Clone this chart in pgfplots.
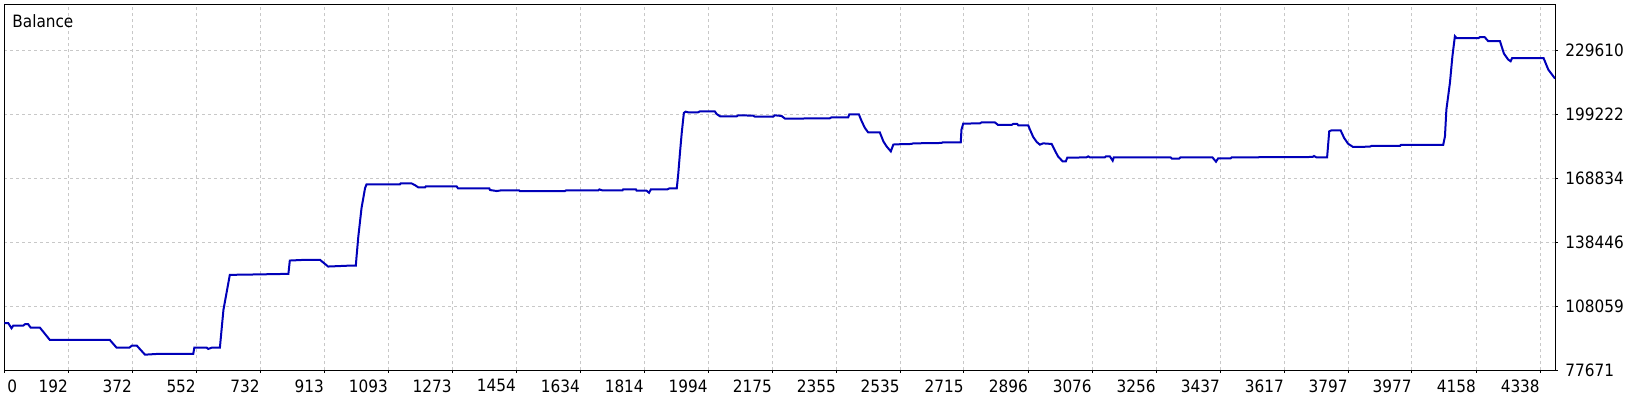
\documentclass[border=0pt]{standalone}
\usepackage{fontspec}
\setmainfont{DejaVu Sans Condensed}
\usepackage{pgfplots}
\pgfplotsset{compat=1.18}
\definecolor{bal}{RGB}{0,0,185}
\definecolor{gridc}{RGB}{200,200,200}

\begin{document}
\begin{tikzpicture}
\useasboundingbox (-2.15pt,-14.75pt) rectangle (817.85pt,185.25pt);
\begin{axis}[
    at={(0,0)}, anchor=south west,
    scale only axis,
    width=775.35pt, height=182.9pt,
    xmin=11.7, xmax=4380,
    ymin=77671, ymax=251100,
    axis line style={black, line width=0.5pt},
    grid=major,
    major grid style={gridc, line width=0.5pt, dash pattern=on 1.5pt off 1.5pt},
    xtick pos=left, ytick pos=right, yticklabel pos=right,
    tick align=outside, major tick length=1.25pt,
    tick style={black, line width=0.5pt},
    xtick={192,372,552,732,913,1093,1273,1454,1634,1814,1994,2175,2355,2535,2715,2896,3076,3256,3437,3617,3797,3977,4158,4338},
    xticklabels={192,372,552,732,913,1093,1273,1454,1634,1814,1994,2175,2355,2535,2715,2896,3076,3256,3437,3617,3797,3977,4158,4338},
    xticklabel style={anchor=north east, inner sep=0pt, yshift=-3pt},
    extra x ticks={11.7},
    extra x tick labels={0},
    extra x tick style={grid=none, xticklabel style={anchor=north west, xshift=1.4pt}},
    ytick={77671,108059,138446,168834,199222,229610},
    yticklabels={77671,108059,138446,168834,199222,229610},
    yticklabel style={anchor=west, inner sep=0pt, xshift=3.75pt},
    scaled x ticks=false, scaled y ticks=false,
    tick label style={font=\fontsize{8.5}{10}\selectfont},
    /pgf/number format/assume math mode=true,
]
\addplot[bal, line width=1pt] coordinates {
(12,100082) (23,100082) (32,97708) (37,98942) (65,98942) (70,99607) (79,99607)
(86,97992) (112,97992) (140,92152) (309,92152) (328,88496) (364,88496) (371,89446)
(385,89446) (408,85173) (441,85505) (544,85505) (547,88496) (582,88496) (586,87879)
(596,88496) (619,88496) (629,106396) (647,123014) (704,123157) (812,123489)
(816,129804) (859,130136) (901,130136) (924,126955) (990,127430) (1002,127430)
(1004,131703) (1009,141199) (1018,154684) (1028,164180) (1032,165889) (1126,165889)
(1128,166364) (1159,166364) (1168,165604) (1178,164464) (1197,164464) (1199,164939)
(1286,164939) (1290,163990) (1378,163990) (1380,163230) (1399,162755) (1410,163040)
(1462,163040) (1464,162755) (1591,162755) (1594,163040) (1685,163040) (1688,163515)
(1697,163040) (1753,163040) (1755,163515) (1791,163515) (1793,162898) (1821,162898)
(1828,161948) (1833,163515) (1879,163515) (1885,163990) (1906,163990) (1910,170494)
(1915,180798) (1920,190294) (1926,199790) (1931,200407) (1938,200074) (1966,200074)
(1971,200549) (2013,200549) (2018,199315) (2028,198175) (2075,198175) (2079,198650)
(2121,198508) (2126,198033) (2178,198033) (2182,198650) (2201,198365) (2211,197083)
(2337,197226) (2342,197700) (2389,197700) (2392,199125) (2419,199125) (2427,195801)
(2436,192668) (2445,190578) (2478,190578) (2488,186305) (2497,183931) (2509,181557)
(2516,184738) (2520,184881) (2567,185071) (2572,185356) (2652,185546) (2655,185830)
(2706,185830) (2708,191860) (2713,194708) (2760,194852) (2765,195326) (2802,195326)
(2811,194092) (2849,194092) (2854,194567) (2865,194567) (2868,193902) (2896,193902)
(2901,191860) (2910,188394) (2920,186020) (2929,184738) (2938,185356) (2962,185071)
(2971,182032) (2980,179183) (2993,176809) (3002,176809) (3006,178566) (3060,178708)
(3065,179183) (3070,178708) (3112,178708) (3115,179183) (3126,179183) (3134,177142)
(3137,178708) (3297,178708) (3301,178091) (3321,178091) (3325,178708) (3415,178708)
(3425,176667) (3431,178234) (3466,178234) (3469,178708) (3697,178898) (3701,179373)
(3708,178708) (3738,178708) (3744,191053) (3750,191528) (3776,191528) (3786,187920)
(3797,185213) (3811,183646) (3858,183789) (3863,184121) (3943,184121) (3946,184596)
(4065,184596) (4070,188679) (4074,201356) (4084,214034) (4091,226663) (4098,236159)
(4103,235210) (4164,235210) (4168,235684) (4182,235684) (4192,233785) (4225,233785)
(4236,227945) (4248,225096) (4255,224289) (4259,225714) (4348,225714) (4361,220348)
(4380,216075)
};
\node[anchor=base west, inner sep=0pt, font=\fontsize{8.5}{10}\selectfont]
  at ([xshift=3.85pt, yshift=-11.65pt]rel axis cs:0,1) {Balance};
\end{axis}
\end{tikzpicture}
\end{document}
